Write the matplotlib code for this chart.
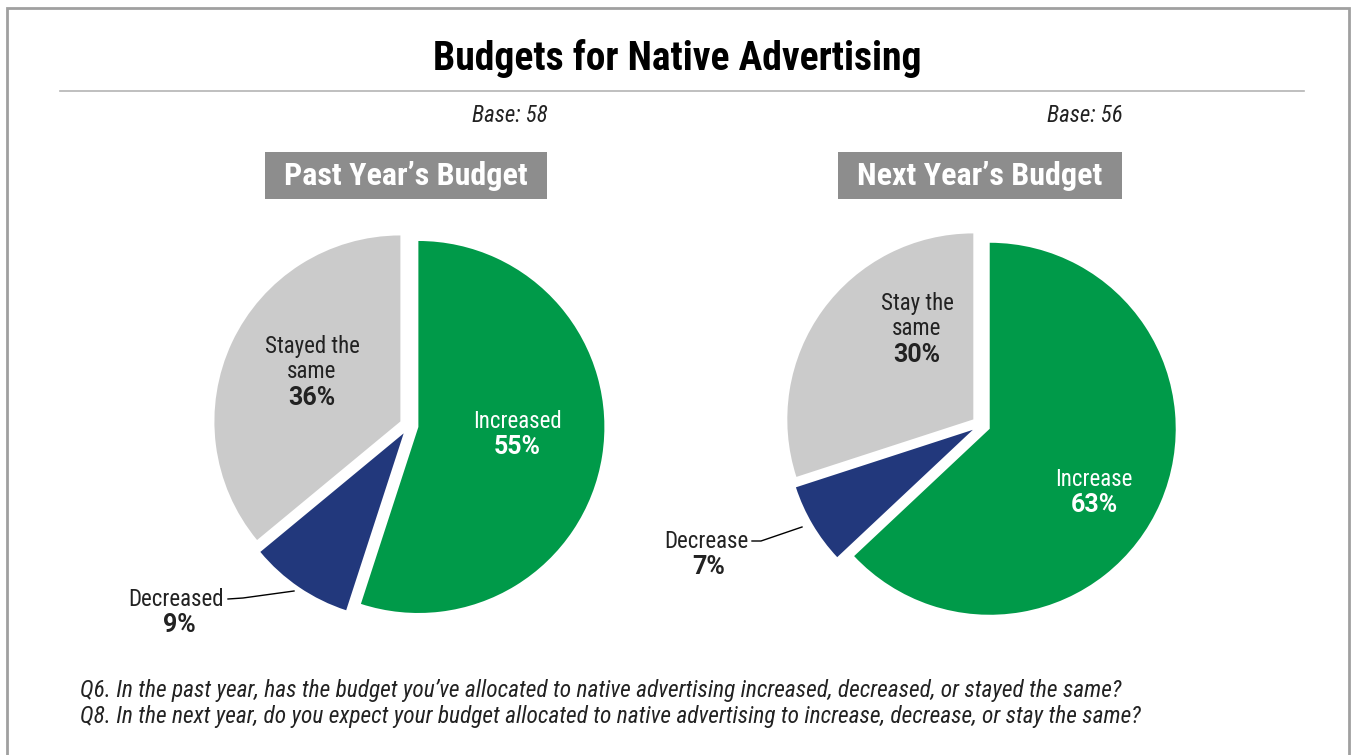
import matplotlib
matplotlib.use("Agg")
import matplotlib.pyplot as plt
from matplotlib.patches import Rectangle

plt.rcParams['font.family'] = ['Roboto Condensed', 'Liberation Sans', 'DejaVu Sans']
PCT_FONT = ['Roboto', 'DejaVu Sans']

# data
past_labels = ["Increased", "Decreased", "Stayed the\nsame"]
past_values = [55, 9, 36]
next_labels = ["Increase", "Decrease", "Stay the\nsame"]
next_values = [63, 7, 30]
colors = ["#009a49", "#22387c", "#cbcbcb"]
bases = ["Base: 58", "Base: 56"]
panel_titles = ["Past Year\u2019s Budget", "Next Year\u2019s Budget"]
notes = ["Q6. In the past year, has the budget you\u2019ve allocated to native advertising increased, decreased, or stayed the same?",
         "Q8. In the next year, do you expect your budget allocated to native advertising to increase, decrease, or stay the same?"]

W, H = 1351, 755
fig = plt.figure(figsize=(W / 100, H / 100), dpi=100)
ax = fig.add_axes([0, 0, 1, 1])
ax.axis("off")

def yy(y):  # image y (down) -> axes y (up)
    return H - y

# outer frame + title rule
ax.add_patch(Rectangle((7, yy(800)), 1342, 792, fill=False, ec="#a0a0a0", lw=2))
ax.plot([60, 1304], [yy(91), yy(91)], color="#b4b4b4", lw=1.2)
ax.text(677, yy(58), "Budgets for Native Advertising", ha="center", va="center",
        fontsize=28.5, fontweight="bold", color="black")

R = 186
centers = [(409, 425.5), (981, 425)]
base_x = [548, 1123]
box_x = [(265, 547), (838, 1122)]
series = [(past_values, past_labels), (next_values, next_labels)]

for i in range(2):
    vals, labs = series[i]
    cx, cy = centers[i]
    ax.pie(vals, colors=colors, startangle=90, counterclock=False, radius=R,
           center=(cx, yy(cy)), explode=[9.5, 9.5, 9.5], frame=True,
           wedgeprops=dict(linewidth=0))
    ax.text(base_x[i], yy(115), bases[i], ha="right", va="center",
            fontsize=16.5, style="italic", color="#222222")
    x0, x1 = box_x[i]
    ax.add_patch(Rectangle((x0, yy(199)), x1 - x0, 47, color="#8d8d8d", lw=0))
    ax.text((x0 + x1) / 2, yy(176), panel_titles[i], ha="center", va="center",
            fontsize=23, fontweight="bold", color="white")

ax.set_xlim(0, W)
ax.set_ylim(0, H)
ax.set_aspect("equal")

LS = 16.5  # label size
PS = 18    # percent size

# labels, left pie
ax.text(312, yy(359), past_labels[2], ha="center", va="center", fontsize=LS,
        color="#222222", linespacing=1.15)
ax.text(312, yy(398), "%d%%" % past_values[2], ha="center", va="center",
        fontsize=PS, fontweight="bold", color="#222222", family=PCT_FONT)
ax.text(517, yy(421), past_labels[0], ha="center", va="center", fontsize=LS, color="white")
ax.text(517, yy(447), "%d%%" % past_values[0], ha="center", va="center",
        fontsize=PS, fontweight="bold", color="white", family=PCT_FONT)
ax.text(224, yy(599), past_labels[1], ha="right", va="center", fontsize=LS, color="#222222")
ax.text(179, yy(625), "%d%%" % past_values[1], ha="center", va="center",
        fontsize=PS, fontweight="bold", color="#222222", family=PCT_FONT)
ax.plot([228, 243, 294], [yy(599), yy(598), yy(591)], color="black", lw=1)

# labels, right pie
ax.text(917, yy(316), next_labels[2], ha="center", va="center", fontsize=LS,
        color="#222222", linespacing=1.15)
ax.text(917, yy(355), "%d%%" % next_values[2], ha="center", va="center",
        fontsize=PS, fontweight="bold", color="#222222", family=PCT_FONT)
ax.text(1094, yy(479), next_labels[0], ha="center", va="center", fontsize=LS, color="white")
ax.text(1094, yy(505), "%d%%" % next_values[0], ha="center", va="center",
        fontsize=PS, fontweight="bold", color="white", family=PCT_FONT)
ax.text(748, yy(541), next_labels[1], ha="right", va="center", fontsize=LS, color="#222222")
ax.text(709, yy(567), "%d%%" % next_values[1], ha="center", va="center",
        fontsize=PS, fontweight="bold", color="#222222", family=PCT_FONT)
ax.plot([752, 761, 802], [yy(541), yy(541), yy(527)], color="black", lw=1)

# footnotes
ax.text(80, yy(690), notes[0], ha="left", va="center", fontsize=16.8, style="italic", color="#222222")
ax.text(80, yy(716), notes[1], ha="left", va="center", fontsize=16.8, style="italic", color="#222222")

fig.savefig("out.png", dpi=100)
